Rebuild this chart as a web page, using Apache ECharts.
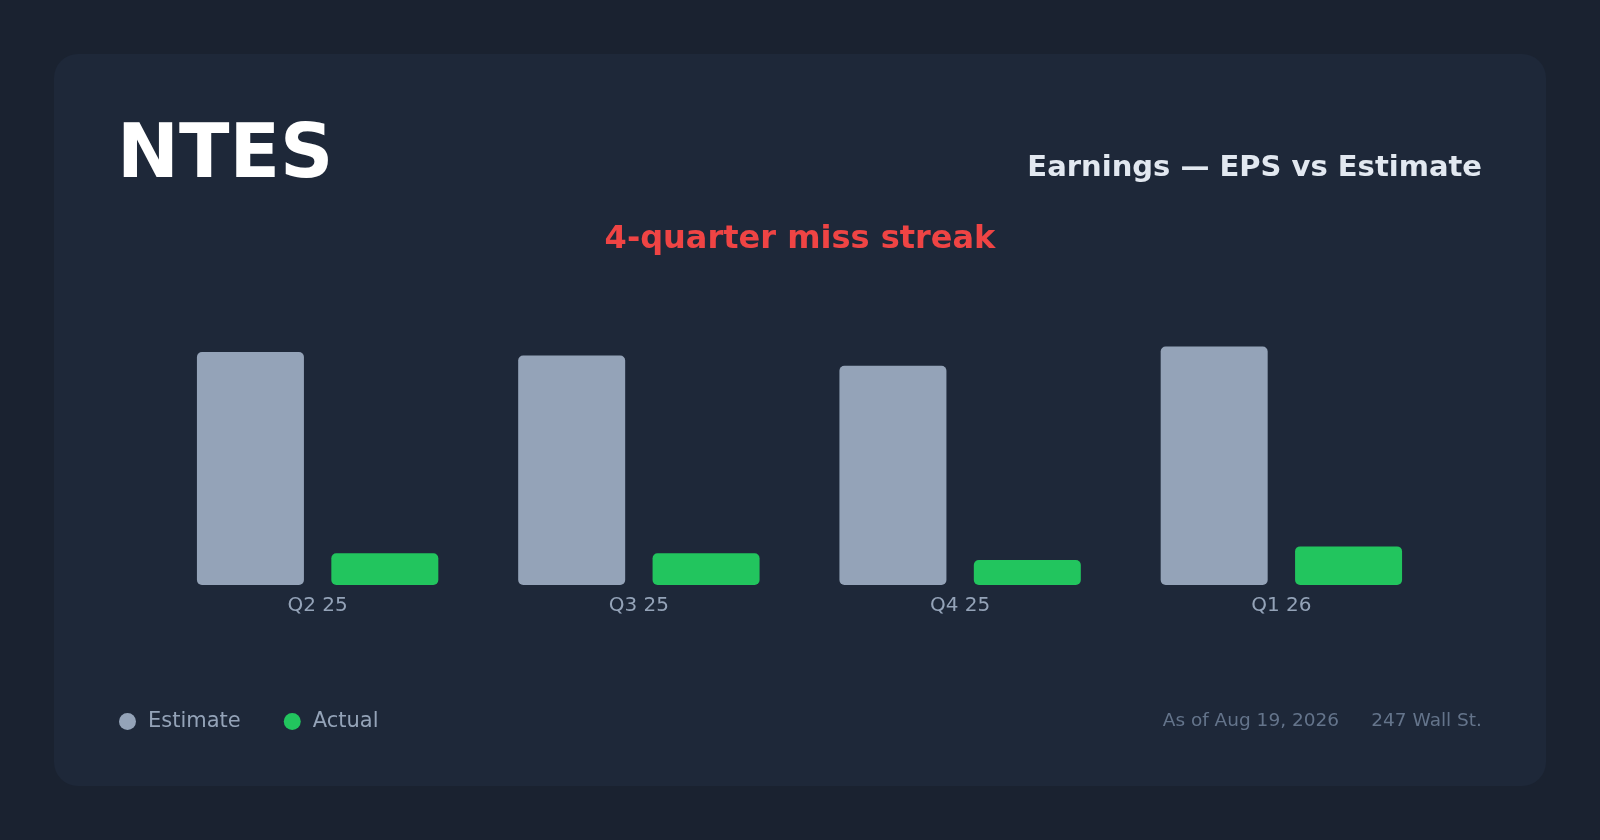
<!DOCTYPE html>
<html>
<head>
<meta charset="utf-8">
<title>NTES Earnings — EPS vs Estimate</title>
<script src="https://cdn.jsdelivr.net/npm/echarts@6/dist/echarts.min.js"></script>
<style>
  html, body { margin: 0; padding: 0; background: #1a2230; }
  #chart { width: 1600px; height: 840px; }
</style>
</head>
<body>
<div id="chart"></div>
<script>
// quarters and EPS values
const quarters = ['Q2 25', 'Q3 25', 'Q4 25', 'Q1 26'];
const estimateEps = [2.05, 2.02, 1.93, 2.10];
const actualEps = [0.28, 0.28, 0.22, 0.34];

const ticker = 'NTES';
const chartTitle = 'Earnings — EPS vs Estimate';
const streakNote = '4-quarter miss streak';
const asOfNote = 'As of Aug 19, 2026';
const sourceNote = '247 Wall St.';

const FONT = 'DejaVu Sans';

const chart = echarts.init(document.getElementById('chart'));

chart.setOption({
  backgroundColor: '#1a2230',
  animation: false,
  textStyle: { fontFamily: FONT },
  graphic: [
    {
      type: 'rect',
      z: -10,
      shape: { x: 54, y: 54, width: 1492, height: 732, r: 24 },
      style: { fill: '#1e2839' },
    },
    {
      type: 'text',
      x: 117,
      y: 158,
      style: {
        text: ticker,
        fill: '#ffffff',
        font: `bold 74px "${FONT}"`,
        verticalAlign: 'middle',
      },
    },
    {
      type: 'text',
      x: 1482,
      y: 168,
      style: {
        text: chartTitle,
        fill: '#e2e8f0',
        font: `bold 29px "${FONT}"`,
        align: 'right',
        verticalAlign: 'middle',
      },
    },
    {
      type: 'text',
      x: 800,
      y: 240,
      style: {
        text: streakNote,
        fill: '#ef4444',
        font: `bold 32px "${FONT}"`,
        align: 'center',
        verticalAlign: 'middle',
      },
    },
    {
      type: 'text',
      x: 1339,
      y: 721,
      style: {
        text: asOfNote,
        fill: '#64748b',
        font: `18.5px "${FONT}"`,
        align: 'right',
        verticalAlign: 'middle',
      },
    },
    {
      type: 'text',
      x: 1482,
      y: 721,
      style: {
        text: sourceNote,
        fill: '#64748b',
        font: `18.5px "${FONT}"`,
        align: 'right',
        verticalAlign: 'middle',
      },
    },
  ],
  legend: {
    left: 114,
    top: 706,
    icon: 'circle',
    itemWidth: 17,
    itemHeight: 17,
    itemGap: 43,
    selectedMode: false,
    textStyle: {
      color: '#94a3b8',
      fontSize: 21,
      fontFamily: FONT,
      padding: [0, 0, 0, 7],
    },
    data: ['Estimate', 'Actual'],
  },
  grid: {
    left: 157,
    right: 158,
    top: 301,
    bottom: 255,
    containLabel: false,
  },
  xAxis: {
    type: 'category',
    data: quarters,
    axisLine: { show: false },
    axisTick: { show: false },
    axisLabel: {
      color: '#94a3b8',
      fontSize: 20,
      fontFamily: FONT,
      margin: 11,
    },
  },
  yAxis: {
    type: 'value',
    min: 0,
    max: 2.5,
    show: false,
    splitLine: { show: false },
  },
  series: [
    {
      name: 'Estimate',
      type: 'bar',
      data: estimateEps,
      barWidth: 107,
      barGap: '25.6%',
      itemStyle: { color: '#94a3b8', borderRadius: 5 },
    },
    {
      name: 'Actual',
      type: 'bar',
      data: actualEps,
      barWidth: 107,
      itemStyle: { color: '#22c55e', borderRadius: 5 },
    },
  ],
});
</script>
</body>
</html>
